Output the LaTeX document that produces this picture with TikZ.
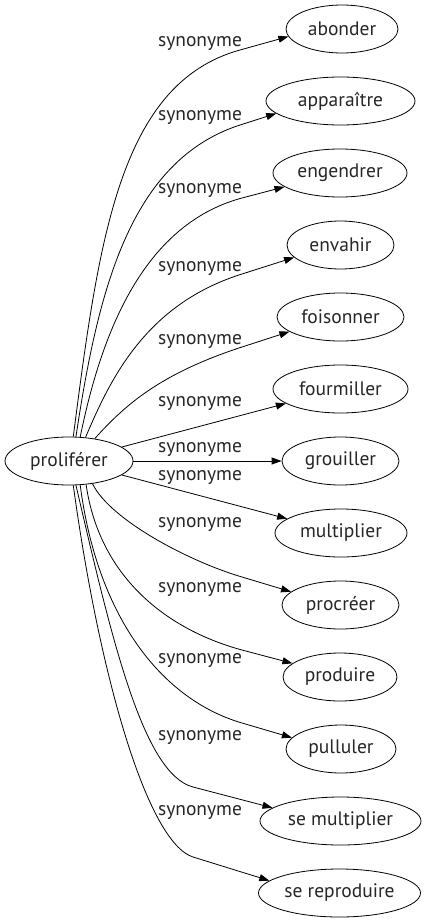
\documentclass[tikz,border=0pt]{standalone}
\usepackage{fontspec}
\setmainfont{PT Sans}
\usetikzlibrary{arrows.meta,shapes.geometric}
\begin{document}
\begin{tikzpicture}[x=1pt,y=-1pt,
  every node/.style={font=\fontsize{19.5}{21}\selectfont, text=black!85},
  term/.style={draw=black, ellipse, minimum height=48pt, inner sep=0pt, line width=0.8pt},
  lab/.style={inner sep=0pt},
  edge/.style={draw=black, line width=0.8pt, -{Triangle[length=10pt,width=7pt]}}]
\useasboundingbox (0,0) rectangle (428,923);
\node[term, minimum width=128pt] (p) at (69,461) {proliférer};
\node[term, minimum width=112pt] (abonder) at (342,29) {abonder};
\node[term, minimum width=149pt] (appar) at (340.5,101) {apparaître};
\node[term, minimum width=134pt] (engendrer) at (340,173) {engendrer};
\node[term, minimum width=107pt] (envahir) at (340.5,245) {envahir};
\node[term, minimum width=127pt] (foisonner) at (340.5,317) {foisonner};
\node[term, minimum width=135pt] (fourmiller) at (340.5,389) {fourmiller};
\node[term, minimum width=117pt] (grouiller) at (340.5,461) {grouiller};
\node[term, minimum width=132pt] (multiplier) at (341,533) {multiplier};
\node[term, minimum width=117pt] (procreer) at (340.5,605) {procréer};
\node[term, minimum width=114pt] (produire) at (340,677) {produire};
\node[term, minimum width=110pt] (pulluler) at (341,749) {pulluler};
\node[term, minimum width=161pt] (semult) at (340.5,821) {se multiplier};
\node[term, minimum width=162pt] (serep) at (339.5,893) {se reproduire};

\node[lab] (l1) at (200,44) {synonyme};
\node[lab] (l2) at (200,118) {synonyme};
\node[lab] (l3) at (200,191) {synonyme};
\node[lab] (l4) at (200,269) {synonyme};
\node[lab] (l5) at (200,342) {synonyme};
\node[lab] (l6) at (200,404) {synonyme};
\node[lab] (l7) at (200,450) {synonyme};
\node[lab] (l8) at (200,478) {synonyme};
\node[lab] (l9) at (200,525) {synonyme};
\node[lab] (l10) at (200,590) {synonyme};
\node[lab] (l11) at (200,660) {synonyme};
\node[lab] (l12) at (200,737) {synonyme};
\node[lab] (l13) at (200,812) {synonyme};

\draw[edge] (p.80) .. controls (99,237) and (120,83.2) .. (240,50) -- (abonder.188);
\draw[edge] (p.74) .. controls (98,290) and (130,160.7) .. (240,125) -- (appar.191);
\draw[edge] (p.65) .. controls (100,340) and (140,225.4) .. (242,198) -- (engendrer.194);
\draw[edge] (p.55) .. controls (110,380) and (145,304.4) .. (242,274) -- (envahir.195);
\draw[edge] (p.41) .. controls (125,405) and (160,373.7) .. (242,347) -- (foisonner.196);
\draw[edge] (p) -- (fourmiller);
\draw[edge] (p) -- (grouiller);
\draw[edge] (p) -- (multiplier);
\draw[edge] (p.-44) .. controls (110,520) and (190,561.8) .. (242,577) -- (procreer.165);
\draw[edge] (p.-54) .. controls (100,580) and (170,630.5) .. (242,650) -- (produire.164);
\draw[edge] (p.-65) .. controls (97,615) and (160,699) .. (242,723) -- (pulluler.167);
\draw[edge] (p.-74) .. controls (112,640) and (143,773.7) .. (193,787) -- (semult.169);
\draw[edge] (p.-80) .. controls (100,680) and (148,842.6) .. (193,857) -- (serep.170);
\end{tikzpicture}
\end{document}
